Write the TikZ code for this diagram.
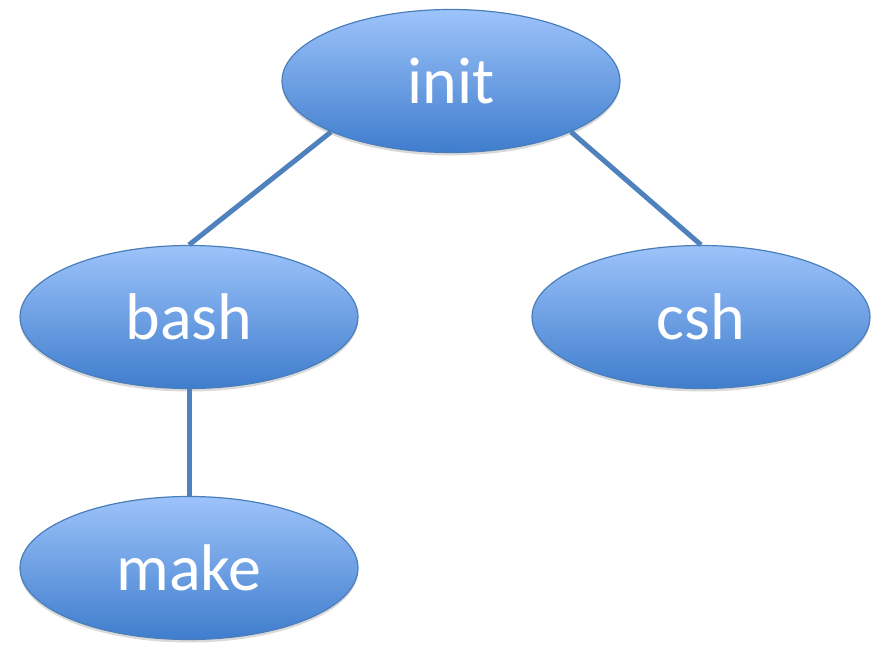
\documentclass[tikz,border=0pt]{standalone}
\usepackage{fontspec}
\setmainfont{Carlito}
\usetikzlibrary{shapes.geometric,shadows}
\definecolor{topblue}{HTML}{9DC3FA}
\definecolor{botblue}{HTML}{3F7DCD}
\definecolor{edgeblue}{HTML}{4A7EBB}
\definecolor{linkblue}{HTML}{4F81BD}
\tikzset{
  proc/.style={ellipse, draw=edgeblue, line width=1.2pt, top color=topblue, bottom color=botblue,
    minimum width=338pt, minimum height=143pt, inner sep=0pt, text=white,
    font=\fontsize{66}{70}\selectfont,
    drop shadow={shadow xshift=0pt, shadow yshift=-3pt, opacity=0.25, fill=black!60}},
  link/.style={draw=linkblue, line width=5pt}
}
\begin{document}
\begin{tikzpicture}[x=1pt,y=1pt]
\useasboundingbox (0,0) rectangle (873,645);
\node[proc] (init) at (451,564) {init};
\node[proc] (bash) at (189,328) {bash};
\node[proc] (csh) at (701,328) {csh};
\node[proc] (make) at (189,77) {make};
\begin{scope}[on background layer/.try]
\end{scope}
\draw[link] (init.203) -- (bash.north);
\draw[link] (init.337) -- (csh.north);
\draw[link] (bash.south) -- (make.north);
\end{tikzpicture}
\end{document}
